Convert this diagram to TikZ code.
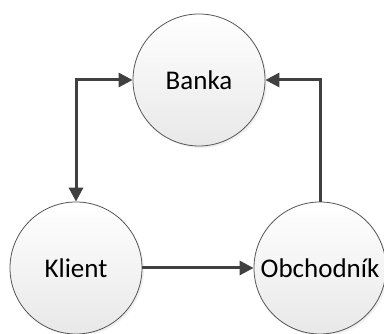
\documentclass[tikz,border=0pt]{standalone}
\usepackage{fontspec}
\setmainfont{Carlito}
\usetikzlibrary{arrows.meta,shadows}
\definecolor{edgegray}{HTML}{404040}
\definecolor{rimgray}{HTML}{555555}
\tikzset{
  actor/.style={circle, draw=rimgray, line width=0.8pt, minimum size=132pt, inner sep=0pt,
    top color=white, bottom color=black!9,
    drop shadow={opacity=0.12, shadow xshift=2pt, shadow yshift=-2pt},
    font=\fontsize{27}{30}\selectfont},
  flow/.style={draw=edgegray, line width=3pt,
    -{Triangle[length=14pt,width=14pt]}},
  bothflow/.style={draw=edgegray, line width=3pt,
    {Triangle[length=14pt,width=14pt]}-{Triangle[length=14pt,width=14pt]}}
}
\begin{document}
\begin{tikzpicture}[x=1pt,y=1pt]
  \useasboundingbox (0,0) rectangle (384,334);
  \node[actor] (banka) at (199,254) {Banka};
  \node[actor] (klient) at (76,66) {Klient};
  \node[actor] (obchod) at (320,66) {Obchodník};
  \draw[bothflow] (klient.north) |- (banka.west);
  \draw[flow] (obchod.north) |- (banka.east);
  \draw[flow] (klient.east) -- (obchod.west);
\end{tikzpicture}
\end{document}
